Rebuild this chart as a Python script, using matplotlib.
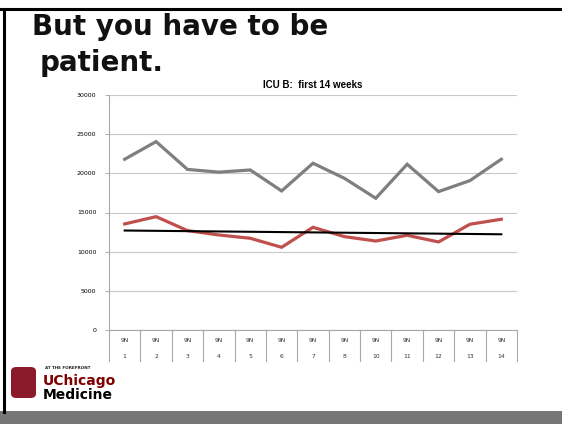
import matplotlib.pyplot as plt
from matplotlib.patches import Rectangle, FancyBboxPatch
from matplotlib.lines import Line2D
from matplotlib.transforms import blended_transform_factory

weeks = ['1', '2', '3', '4', '5', '6', '7', '8', '10', '11', '12', '13', '14']
unit = '9N'
gray_vals = [21800, 24050, 20500, 20150, 20430, 17750, 21290, 19370, 16820, 21160, 17670, 19070, 21800]
red_vals = [13540, 14470, 12690, 12130, 11710, 10560, 13110, 11920, 11360, 12090, 11240, 13500, 14140]
trend_ends = [12700, 12220]
y_ticks = [0, 5000, 10000, 15000, 20000, 25000, 30000]

W, H = 562, 424
fig = plt.figure(figsize=(W / 100, H / 100), dpi=100)

# slide frame
fig.add_artist(Line2D([0, 1], [1 - 9 / H, 1 - 9 / H], color='black', lw=2.2))
fig.add_artist(Line2D([3.5 / W, 3.5 / W], [12 / H, 1 - 9 / H], color='black', lw=2.2))
fig.add_artist(Rectangle((0, 0), 1, 13 / H, color='#767676', lw=0))

# slide title
fig.text(32 / W, 1 - 27 / H, 'But you have to be', fontsize=20, fontweight='heavy',
         family='DejaVu Sans', va='center', ha='left', color='#111111')
fig.text(40 / W, 1 - 63 / H, 'patient.', fontsize=20, fontweight='heavy',
         family='DejaVu Sans', va='center', ha='left', color='#111111')

ax = fig.add_axes([109 / W, (H - 330) / H, (517 - 109) / W, 235 / H])
x = list(range(len(weeks)))
ax.plot(x, gray_vals, color='#7f7f7f', lw=2.3, solid_joinstyle='miter')
ax.plot(x, red_vals, color='#c0504d', lw=2.3, solid_joinstyle='miter')
ax.plot([x[0], x[-1]], trend_ends, color='black', lw=1.5)

ax.set_xlim(-0.5, len(weeks) - 0.5)
ax.set_ylim(0, 30000)
ax.set_yticks(y_ticks)
ax.set_yticklabels([str(v) for v in y_ticks], fontsize=4.5)
ax.tick_params(axis='y', length=3, width=0.6, color='#a0a0a0', pad=6)
ax.set_xticks([])
ax.grid(axis='y', color='#c8c8c8', lw=0.8)
ax.set_axisbelow(True)
for s in ['top', 'right']:
    ax.spines[s].set_visible(False)
for s in ['left', 'bottom']:
    ax.spines[s].set_color('#a8a8a8')
    ax.spines[s].set_linewidth(0.8)

ax.set_title('ICU B:  first 14 weeks', fontsize=7, fontweight='bold', pad=5,
             family='Liberation Sans')

# category table under the axis
tr = blended_transform_factory(ax.transData, ax.transAxes)
depth = 31 / 235
for i in range(len(weeks) + 1):
    ax.plot([i - 0.5, i - 0.5], [0, -depth], color='#a8a8a8', lw=0.8,
            transform=tr, clip_on=False)
for i, w in enumerate(weeks):
    ax.text(i, -11 / 235, unit, transform=tr, fontsize=4.3, ha='center', va='center', color='#333333')
    ax.text(i, -26 / 235, w, transform=tr, fontsize=4.3, ha='center', va='center', color='#333333')

# logo
fig.add_artist(FancyBboxPatch((11 / W, (H - 398) / H), 25 / W, 31 / H,
                              boxstyle='round,pad=0,rounding_size=0.01',
                              color='#8b1a2b', lw=0))
fig.text(45 / W, 1 - 368 / H, 'AT THE FOREFRONT', fontsize=3, fontweight='bold',
         va='center', ha='left', color='#222222')
fig.text(43 / W, 1 - 381 / H, 'UChicago', fontsize=10, fontweight='bold',
         va='center', ha='left', color='#800000')
fig.text(43 / W, 1 - 395 / H, 'Medicine', fontsize=10, fontweight='bold',
         va='center', ha='left', color='black')

fig.savefig('out.png', dpi=100)
